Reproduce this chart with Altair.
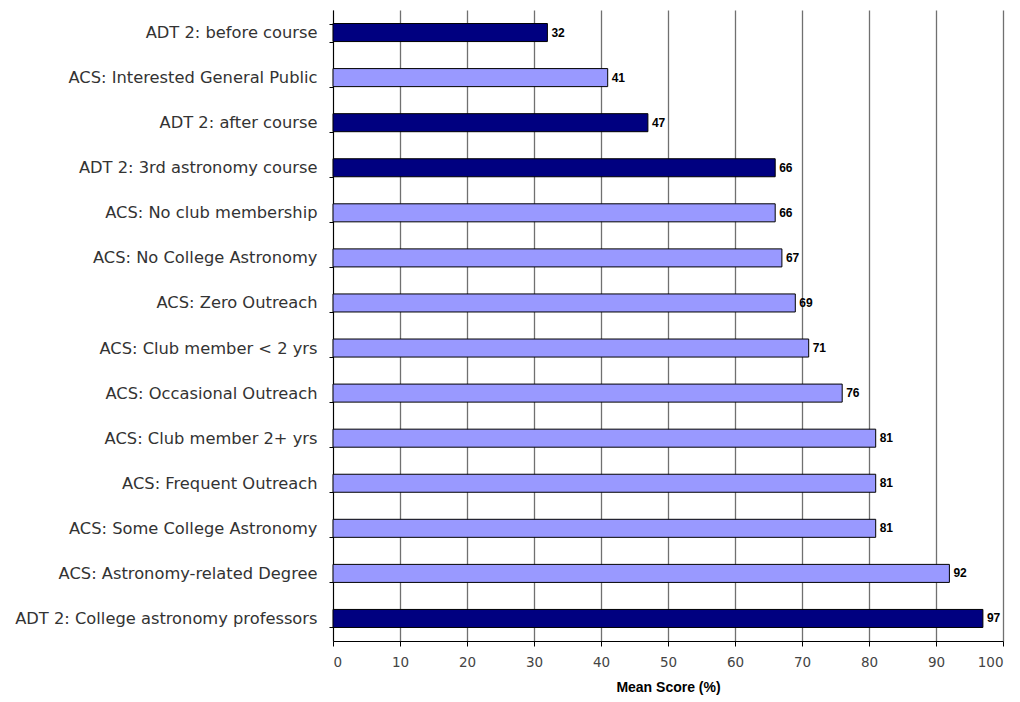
import altair as alt
import pandas as pd

categories = [
    "ADT 2: before course",
    "ACS: Interested General Public",
    "ADT 2: after course",
    "ADT 2: 3rd astronomy course",
    "ACS: No club membership",
    "ACS: No College Astronomy",
    "ACS: Zero Outreach",
    "ACS: Club member < 2 yrs",
    "ACS: Occasional Outreach",
    "ACS: Club member 2+ yrs",
    "ACS: Frequent Outreach",
    "ACS: Some College Astronomy",
    "ACS: Astronomy-related Degree",
    "ADT 2: College astronomy professors",
]
scores = [32, 41, 47, 66, 66, 67, 69, 71, 76, 81, 81, 81, 92, 97]
groups = ["ADT 2" if c.startswith("ADT") else "ACS" for c in categories]

df = pd.DataFrame({"category": categories, "score": scores, "group": groups})

y_enc = alt.Y(
    "category:N",
    sort=categories,
    title=None,
    scale=alt.Scale(paddingInner=0.6, paddingOuter=0.3),
    axis=alt.Axis(
        labelFont="DejaVu Sans",
        labelFontSize=16.3,
        labelColor="#333333",
        labelPadding=12,
        tickBand="extent",
        tickSize=4,
        tickColor="#000000",
        domainColor="#000000",
        grid=False,
        labelLimit=400,
    ),
)

bars = alt.Chart(df).mark_bar(stroke="#000000", strokeWidth=1).encode(
    x=alt.X(
        "score:Q",
        scale=alt.Scale(domain=[0, 100]),
        title="Mean Score (%)",
        axis=alt.Axis(
            values=list(range(0, 101, 10)),
            grid=True,
            gridColor="#707070",
            gridWidth=1.3,
            labelFont="DejaVu Sans",
            labelFontSize=13.5,
            labelColor="#444444",
            labelPadding=9,
            tickSize=5,
            tickColor="#000000",
            domainColor="#000000",
            titleFont="Liberation Sans",
            titleFontSize=14,
            titleFontWeight="bold",
            titlePadding=12,
            titleColor="#000000",
        ),
    ),
    y=y_enc,
    color=alt.Color(
        "group:N",
        scale=alt.Scale(domain=["ADT 2", "ACS"], range=["#000080", "#9999FF"]),
        legend=None,
    ),
)

labels = alt.Chart(df).mark_text(
    align="left", baseline="middle", dx=4, font="Liberation Sans",
    fontSize=12, fontWeight="bold", color="#000000",
).encode(
    x="score:Q",
    y=alt.Y("category:N", sort=categories),
    text="score:Q",
)

chart = (
    alt.layer(bars, labels)
    .properties(
        width=670,
        height=631,
        autosize=alt.AutoSizeParams(type="none"),
        padding={"left": 333, "top": 10, "right": 17, "bottom": 61},
        background="#ffffff",
    )
    .configure_view(stroke=None)
)

chart.save("out.html", embed_options={"renderer": "svg", "actions": False})
